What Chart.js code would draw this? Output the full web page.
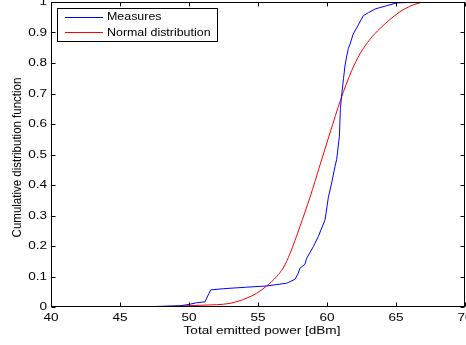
<!DOCTYPE html>
<html>
<head>
<meta charset="utf-8">
<script src="https://cdn.jsdelivr.net/npm/chart.js@4.4.1/dist/chart.umd.min.js"></script>
<style>
  html, body { margin: 0; padding: 0; background: #fff; }
  canvas { display: block; }
</style>
</head>
<body>
<canvas id="cdf" width="466" height="345"></canvas>
<script>
// Valeurs
const measuresX = [45, 47, 49.35, 50.07, 50.56, 51.16, 51.4, 51.57, 52.5, 54.18, 55.63, 57.08, 57.68, 57.92, 58.04, 58.4, 58.53, 59.01, 59.37, 59.86, 60.1, 60.34, 60.58, 60.7, 60.9, 60.97, 61.05, 61.2, 61.3, 61.43, 61.55, 61.67, 61.9, 62.27, 62.63, 63.0, 63.48, 64.33, 65.05, 66.7];
const measuresY = [0, 0.001, 0.004, 0.009, 0.014, 0.017, 0.04, 0.056, 0.06, 0.065, 0.069, 0.078, 0.091, 0.111, 0.127, 0.14, 0.16, 0.198, 0.231, 0.286, 0.36, 0.407, 0.461, 0.484, 0.56, 0.65, 0.69, 0.75, 0.79, 0.823, 0.848, 0.862, 0.895, 0.925, 0.955, 0.965, 0.977, 0.988, 0.997, 1.0];

const normalX = [45, 47, 49.35, 51, 52.97, 54.18, 54.9, 55.63, 56.35, 56.83, 57.32, 58.04, 58.77, 59.49, 60.22, 61.0, 61.79, 62.39, 63.12, 63.84, 64.57, 65.29, 66.0, 66.7, 67];
const normalY = [0, 0.0005, 0.003, 0.006, 0.012, 0.029, 0.045, 0.069, 0.1, 0.128, 0.175, 0.264, 0.36, 0.465, 0.571, 0.681, 0.775, 0.83, 0.878, 0.913, 0.943, 0.968, 0.986, 0.997, 1.0];

const xTicks = [40, 45, 50, 55, 60, 65, 70];
const yTicks = [0, 0.1, 0.2, 0.3, 0.4, 0.5, 0.6, 0.7, 0.8, 0.9, 1];
const xTitle = "Total emitted power [dBm]";
const yTitle = "Cumulative distribution function";

const FONT = "11.5px 'Liberation Sans', Arial, sans-serif";
const STRETCH = 1.18; // la figure d'origine est étirée en largeur
const LEG_STRETCH = 1.08;

function points(xs, ys) {
  return xs.map((x, i) => ({ x: x, y: ys[i] }));
}

function texte(ctx, txt, x, y, align, sx) {
  ctx.save();
  ctx.translate(x, y);
  ctx.scale(sx, 1);
  ctx.textAlign = align;
  ctx.fillText(txt, 0, 0);
  ctx.restore();
}

// cadre, graduations vers l'intérieur (style MATLAB), libellés et légende
const cadrePlugin = {
  id: "cadre",
  afterDraw(chart) {
    const { ctx, chartArea: a, scales } = chart;
    ctx.save();
    ctx.strokeStyle = "#000";
    ctx.lineWidth = 1;
    const L = Math.round(a.left) + 0.5, R = Math.round(a.right) - 0.5;
    const T = Math.round(a.top) + 0.5, B = Math.round(a.bottom) - 0.5;
    ctx.strokeRect(L, T, R - L, B - T);
    ctx.beginPath();
    xTicks.forEach((v) => {
      const px = Math.round(scales.x.getPixelForValue(v)) + 0.5;
      ctx.moveTo(px, B); ctx.lineTo(px, B - 4);
      ctx.moveTo(px, T); ctx.lineTo(px, T + 4);
    });
    yTicks.forEach((v) => {
      const py = Math.round(scales.y.getPixelForValue(v)) + 0.5;
      ctx.moveTo(L, py); ctx.lineTo(L + 4, py);
      ctx.moveTo(R, py); ctx.lineTo(R - 4, py);
    });
    ctx.stroke();

    // libellés des axes
    ctx.fillStyle = "#000";
    ctx.font = FONT;
    ctx.textBaseline = "alphabetic";
    xTicks.forEach((v) => {
      texte(ctx, String(v), scales.x.getPixelForValue(v), 321, "center", STRETCH);
    });
    ctx.textBaseline = "middle";
    yTicks.forEach((v) => {
      texte(ctx, String(v), 47, scales.y.getPixelForValue(v), "right", STRETCH);
    });
    ctx.textBaseline = "alphabetic";
    texte(ctx, xTitle, (a.left + a.right) / 2 + 4, 334, "center", STRETCH);
    ctx.save();
    ctx.translate(17, (a.top + a.bottom) / 2 + 3);
    ctx.rotate(-Math.PI / 2);
    ctx.textBaseline = "middle";
    ctx.scale(1, STRETCH);
    ctx.textAlign = "center";
    ctx.fillText(yTitle, 0, 0);
    ctx.restore();

    // légende
    const bx = 57.5, by = 8.5, bw = 160, bh = 33;
    ctx.fillStyle = "#fff";
    ctx.fillRect(bx, by, bw, bh);
    ctx.strokeRect(bx, by, bw, bh);
    ctx.textBaseline = "middle";
    chart.data.datasets.forEach((ds, i) => {
      const y = by + 8 + i * 15.5;
      ctx.strokeStyle = ds.borderColor;
      ctx.beginPath();
      ctx.moveTo(65, Math.round(y) + 0.5);
      ctx.lineTo(103, Math.round(y) + 0.5);
      ctx.stroke();
      ctx.fillStyle = "#000";
      texte(ctx, ds.label, 107, y + 0.5, "left", LEG_STRETCH);
    });
    ctx.restore();
  },
};

new Chart(document.getElementById("cdf"), {
  type: "scatter",
  data: {
    datasets: [
      {
        label: "Measures",
        data: points(measuresX, measuresY),
        showLine: true,
        borderColor: "#0000ff",
        borderWidth: 1,
        pointRadius: 0,
        tension: 0,
      },
      {
        label: "Normal distribution",
        data: points(normalX, normalY),
        showLine: true,
        borderColor: "#ff0000",
        borderWidth: 1,
        pointRadius: 0,
        cubicInterpolationMode: "monotone",
      },
    ],
  },
  options: {
    responsive: false,
    animation: false,
    layout: { padding: { top: 2, right: 1, left: 0, bottom: 0 } },
    plugins: {
      legend: { display: false },
      tooltip: { enabled: false },
    },
    scales: {
      x: {
        type: "linear",
        min: 40,
        max: 70,
        afterFit: (s) => { s.height = 38; s.paddingLeft = 0; s.paddingRight = 0; },
        grid: { display: false, drawTicks: false },
        border: { display: false },
        ticks: { display: false },
      },
      y: {
        min: 0,
        max: 1,
        afterFit: (s) => { s.width = 51; s.paddingTop = 0; s.paddingBottom = 0; },
        grid: { display: false, drawTicks: false },
        border: { display: false },
        ticks: { display: false },
      },
    },
  },
  plugins: [cadrePlugin],
});
</script>
</body>
</html>
